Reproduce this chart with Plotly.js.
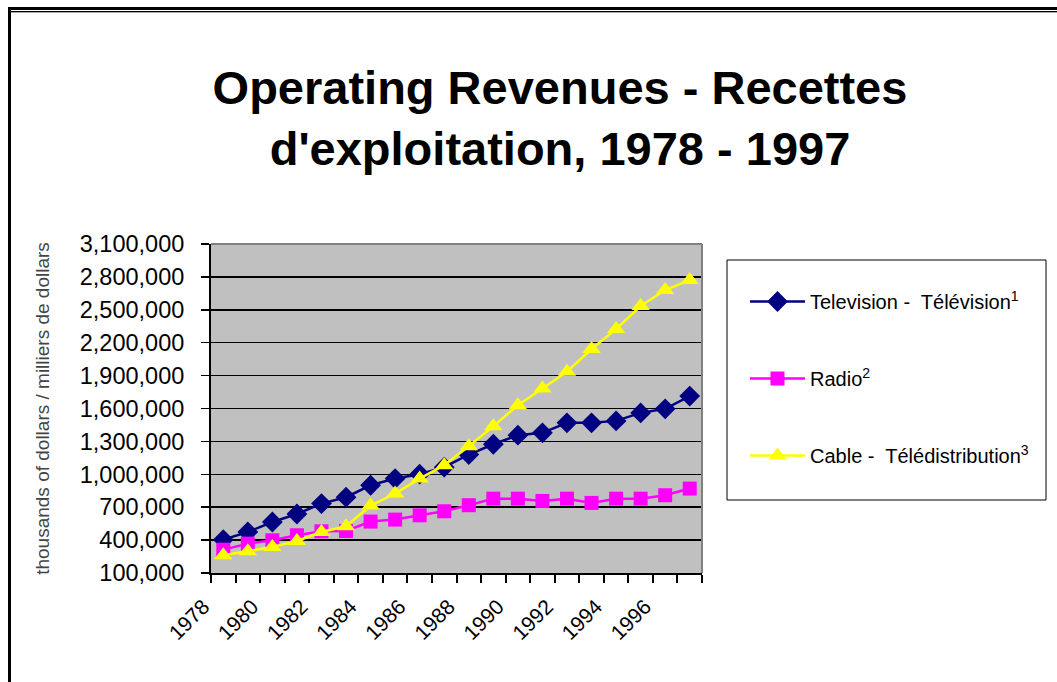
<!DOCTYPE html>
<html>
<head>
<meta charset="utf-8">
<script src="https://cdn.plot.ly/plotly-3.0.1.min.js"></script>
<style>
  html, body { margin: 0; padding: 0; background: #fff; overflow: hidden; }
  #wrap { position: relative; width: 1057px; height: 682px; overflow: hidden; }
  #chart { position: absolute; left: 0; top: 0; width: 1057px; height: 682px; }
  .frame-thick { position: absolute; left: 8px; top: 7px; width: 2000px; height: 2000px;
    border-top: 3px solid #000; border-left: 3px solid #000; pointer-events: none; }
  .frame-thin { position: absolute; left: 11px; top: 11px; width: 2000px; height: 1px;
    background: #000; pointer-events: none; }
  .frame-thin2 { position: absolute; left: 11px; top: 12px; width: 2000px; height: 1px;
    background: #aaa; pointer-events: none; }
</style>
</head>
<body>
<div id="wrap">
  <div id="chart"></div>
  <div class="frame-thick"></div>
  <div class="frame-thin"></div>
  <div class="frame-thin2"></div>
</div>
<script>
// ---- data (thousands of dollars) ----
const years = [1978, 1979, 1980, 1981, 1982, 1983, 1984, 1985, 1986, 1987,
               1988, 1989, 1990, 1991, 1992, 1993, 1994, 1995, 1996, 1997];
const television = [404000, 474000, 565000, 638000, 733000, 791000, 900000, 961000, 1001000, 1065000,
                    1180000, 1274000, 1357000, 1378000, 1469000, 1469000, 1487000, 1560000, 1597000, 1713000];
const radio = [313000, 368000, 398000, 444000, 480000, 483000, 569000, 587000, 626000, 663000,
               718000, 778000, 778000, 757000, 778000, 739000, 778000, 778000, 809000, 870000];
const cable = [261000, 298000, 337000, 392000, 474000, 526000, 715000, 824000, 961000, 1083000,
               1256000, 1439000, 1630000, 1783000, 1935000, 2142000, 2324000, 2534000, 2680000, 2771000];
const seriesNames = ['Television -  Télévision<sup>1</sup>', 'Radio<sup>2</sup>', 'Cable -  Télédistribution<sup>3</sup>'];
const xTickYears = [1978, 1980, 1982, 1984, 1986, 1988, 1990, 1992, 1994, 1996];
const xBoundaries = [1977.5, 1978.5, 1979.5, 1980.5, 1981.5, 1982.5, 1983.5, 1984.5, 1985.5, 1986.5, 1987.5,
                     1988.5, 1989.5, 1990.5, 1991.5, 1992.5, 1993.5, 1994.5, 1995.5, 1996.5, 1997.5];

const FONT = 'Liberation Sans, Arial, sans-serif';

const traces = [
  { x: years, y: television, name: seriesNames[0], type: 'scatter', mode: 'lines+markers',
    legendgroup: 'a',
    line: { color: '#000080', width: 2.5 },
    marker: { symbol: 'diamond', size: 16, color: '#000080' } },
  { x: years, y: radio, name: seriesNames[1], type: 'scatter', mode: 'lines+markers',
    legendgroup: 'b',
    line: { color: '#FF00FF', width: 2.5 },
    marker: { symbol: 'square', size: 14, color: '#FF00FF' } },
  { x: years, y: cable, name: seriesNames[2], type: 'scatter', mode: 'lines+markers',
    legendgroup: 'c',
    line: { color: '#FFFF00', width: 2.5 },
    marker: { symbol: 'triangle-up', size: 16, color: '#FFFF00' } }
];

const pl = 211, pr = 702, pt = 244, pb = 573;
const pw = pr - pl, ph = pb - pt;
function px2x(px) { return (px - pl) / pw; }
function px2y(py) { return (pb - py) / ph; }

const layout = {
  width: 1057, height: 682,
  margin: { l: pl, r: 1057 - pr, t: pt, b: 682 - pb, pad: 0 },
  paper_bgcolor: '#ffffff',
  plot_bgcolor: '#C0C0C0',
  font: { family: FONT, color: '#000' },
  title: {
    text: 'Operating Revenues - Recettes<br>d\'exploitation, 1978 - 1997',
    font: { family: FONT, size: 47, color: '#000', weight: 'bold' },
    xref: 'container', x: 560 / 1057, xanchor: 'center',
    yref: 'container', y: 1 - 104 / 682, yanchor: 'top'
  },
  xaxis: {
    type: 'linear',
    range: [1977.5, 1997.5],
    tickmode: 'array', tickvals: xTickYears, ticktext: xTickYears.map(String),
    ticks: 'outside', ticklen: 8, tickcolor: 'rgba(0,0,0,0)', tickwidth: 1,
    tickangle: -45,
    ticklabelshift: -20,
    ticklabelstandoff: 3,
    tickfont: { family: FONT, size: 21, color: '#000' },
    showgrid: false, zeroline: false,
    showline: true, linecolor: '#000', linewidth: 2,
    minor: { tickmode: 'array', tickvals: xBoundaries, ticks: 'outside', ticklen: 8,
             tickcolor: '#000', tickwidth: 2, showgrid: false },
    fixedrange: true
  },
  yaxis: {
    range: [100000, 3100000],
    tick0: 100000, dtick: 300000,
    tickformat: ',d',
    ticks: 'outside', ticklen: 8, tickcolor: '#000', tickwidth: 1.5,
    ticklabelstandoff: 12,
    tickfont: { family: FONT, size: 23.5, color: '#000' },
    showgrid: true, gridcolor: '#000', gridwidth: 1.5,
    zeroline: false,
    showline: true, linecolor: '#000', linewidth: 2,
    title: { text: 'thousands of dollars / milliers de dollars', standoff: 25,
             font: { family: FONT, size: 19, color: '#444' } },
    fixedrange: true
  },
  legend: {
    x: px2x(745), y: px2y(282), xanchor: 'left', yanchor: 'top',
    xref: 'paper', yref: 'paper',
    bgcolor: 'rgba(0,0,0,0)', borderwidth: 0,
    font: { family: FONT, size: 20, color: '#000' },
    tracegroupgap: 48,
    itemwidth: 55
  },
  shapes: [
    // plot area top and right edges (grey)
    { type: 'line', xref: 'paper', yref: 'paper', x0: 0, x1: 1, y0: 1, y1: 1,
      line: { color: '#808080', width: 2 }, layer: 'above' },
    { type: 'line', xref: 'paper', yref: 'paper', x0: 1, x1: 1, y0: 0, y1: 1,
      line: { color: '#808080', width: 2 }, layer: 'above' },
    // legend box
    { type: 'rect', xref: 'paper', yref: 'paper',
      x0: px2x(727), x1: px2x(1046), y0: px2y(500), y1: px2y(260),
      line: { color: '#000', width: 1 }, fillcolor: 'rgba(0,0,0,0)' }
  ],
  showlegend: true
};

Plotly.newPlot('chart', traces, layout, { displayModeBar: false, staticPlot: true });
</script>
</body>
</html>
